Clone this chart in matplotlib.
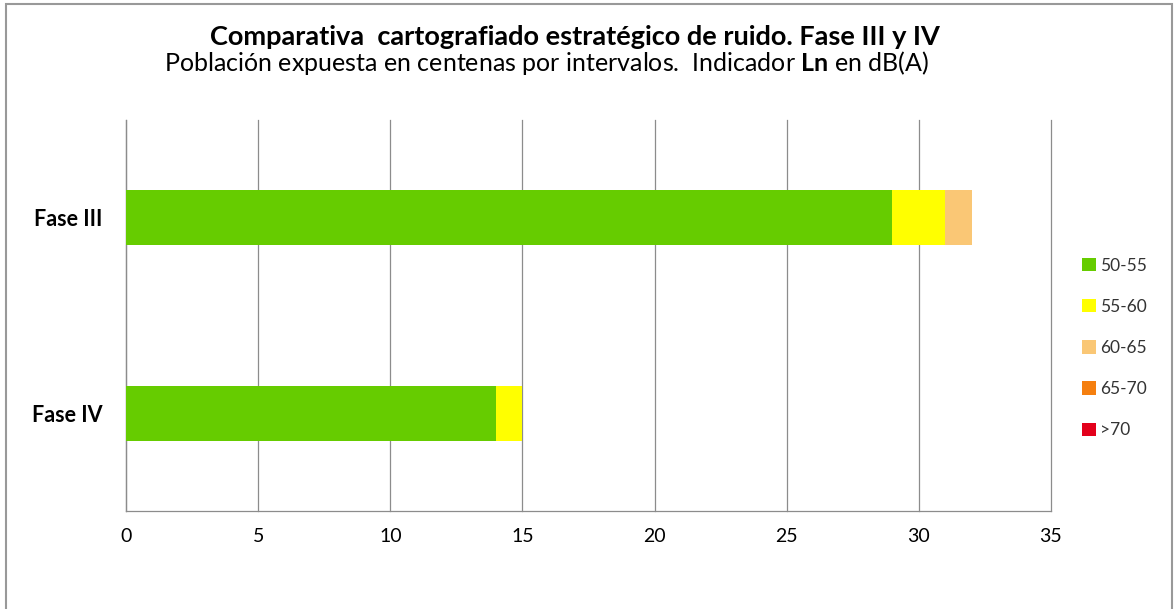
#!/usr/bin/env python3

import numpy as np
import matplotlib.pyplot as plt
from matplotlib.patches import Rectangle

categories = ["Fase III", "Fase IV"]
intervals = ["50-55", "55-60", "60-65", "65-70", ">70"]
values = {
    "50-55": [29, 14],
    "55-60": [2, 1],
    "60-65": [1, 0],
    "65-70": [0, 0],
    ">70": [0, 0],
}
colors = ["#66cc00", "#ffff00", "#fac775", "#f57f0f", "#e3001b"]
xticks = [0, 5, 10, 15, 20, 25, 30, 35]


def main():
    plt.rcParams["font.family"] = ["Lato", "DejaVu Sans"]
    plt.rcParams["mathtext.fontset"] = "custom"
    plt.rcParams["mathtext.rm"] = "Lato"
    plt.rcParams["mathtext.bf"] = "Lato:bold"
    fig = plt.figure(figsize=(11.74, 6.09), dpi=100)

    # chart frame
    fig.patches.append(Rectangle((6 / 1174, -0.05), 1166 / 1174, 1.05 - 4 / 609,
                                 transform=fig.transFigure, fill=False,
                                 edgecolor="#999999", linewidth=1.5))

    ax = fig.add_axes([126 / 1174, 1 - 511 / 609, 925 / 1174, 391 / 609])

    y = np.arange(len(categories))[::-1]
    left = np.zeros(len(categories))
    for name, col in zip(intervals, colors):
        vals = np.array(values[name], dtype=float)
        ax.barh(y, vals, left=left, height=0.28, color=col, label=name,
                zorder=3)
        left += vals

    ax.set_xlim(0, 35)
    ax.set_ylim(-0.5, 1.5)
    ax.set_xticks(xticks)
    ax.set_yticks(y)
    ax.set_yticklabels(categories, fontweight="bold", fontsize=15.5)
    ax.tick_params(axis="x", labelsize=14, length=0, pad=12)
    ax.tick_params(axis="y", length=0, pad=17)
    ax.grid(axis="x", color="#8c8c8c", linewidth=0.9, zorder=0)
    for line in ax.get_xgridlines():
        line.set_clip_on(False)
    for s in ["top", "right"]:
        ax.spines[s].set_visible(False)
    for s in ["left", "bottom"]:
        ax.spines[s].set_color("#8c8c8c")
        ax.spines[s].set_linewidth(0.9)

    leg = ax.legend(loc="center left", bbox_to_anchor=(1.017, 0.417),
                    frameon=False, fontsize=12.5, handlelength=0.8,
                    handleheight=0.8, handletextpad=0.2, labelspacing=1.45)
    for t in leg.get_texts():
        t.set_color("#333333")

    fig.text(575 / 1174, 1 - 37 / 609, "Comparativa  cartografiado estratégico de ruido. Fase III y IV",
             ha="center", va="center", fontsize=19.5, fontweight="bold")
    fig.text(547 / 1174, 1 - 63 / 609,
             r"Población expuesta en centenas por intervalos.  Indicador $\mathbf{Ln}$ en dB(A)",
             ha="center", va="center", fontsize=18)

    fig.savefig("out.png", dpi=100)


if __name__ == "__main__":
    main()
